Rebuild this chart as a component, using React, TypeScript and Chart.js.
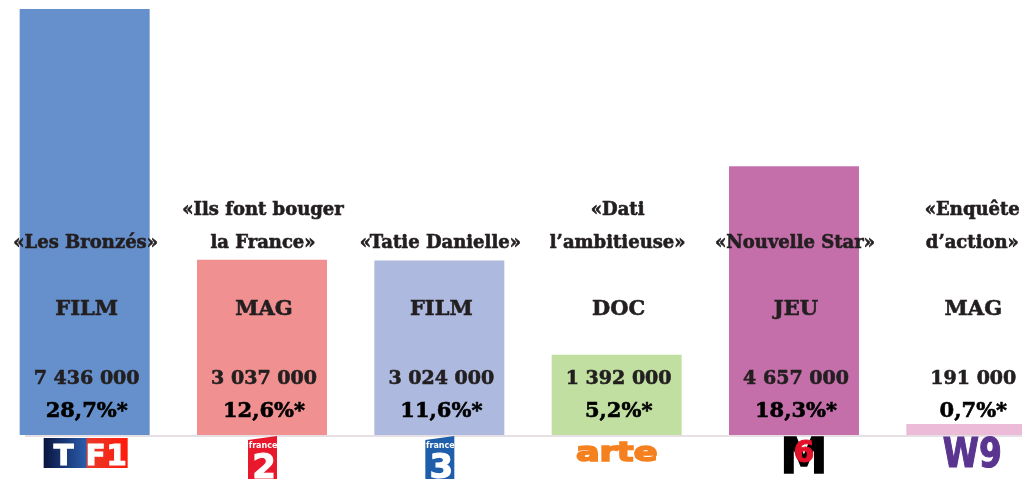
import React, { useEffect, useRef } from "react";
import { Chart, registerables } from "chart.js";

Chart.register(...registerables);

const channels = ["TF1", "France 2", "France 3", "Arte", "M6", "W9"];
const audiences = [7436000, 3037000, 3024000, 1392000, 4657000, 191000];
const shares = ["28,7%*", "12,6%*", "11,6%*", "5,2%*", "18,3%*", "0,7%*"];
const programs = [
  ["«Les Bronzés»"],
  ["«Ils font bouger", "la France»"],
  ["«Tatie Danielle»"],
  ["«Dati", "l’ambitieuse»"],
  ["«Nouvelle Star»"],
  ["«Enquête", "d’action»"],
];
const genres = ["FILM", "MAG", "FILM", "DOC", "JEU", "MAG"];
const barColors = ["#6690cb", "#f09090", "#adb9de", "#c0dfa0", "#c46faa", "#ebbbd7"];

const fmt = (n: number) => String(n).replace(/\B(?=(\d{3})+(?!\d))/g, " ");

const SERIF = '"DejaVu Serif", serif';
const SANS = '"DejaVu Sans", sans-serif';

function boldText(ctx: CanvasRenderingContext2D, text: string, x: number, y: number, w = 0.6) {
  ctx.fillText(text, x, y);
  ctx.lineWidth = w;
  ctx.strokeStyle = ctx.fillStyle as string;
  ctx.strokeText(text, x, y);
}

function drawLogo(ctx: CanvasRenderingContext2D, name: string, cx: number) {
  ctx.save();
  ctx.textAlign = "center";
  ctx.textBaseline = "alphabetic";
  if (name === "TF1") {
    const x0 = cx - 41, x1 = cx + 43;
    const g = ctx.createLinearGradient(x0, 0, x1, 0);
    g.addColorStop(0, "#0a1440");
    g.addColorStop(0.5, "#2a5cab");
    g.addColorStop(0.52, "#e83a2a");
    g.addColorStop(1, "#ff1a0a");
    ctx.fillStyle = g;
    ctx.fillRect(x0, 438, 84, 30);
    ctx.fillStyle = "#ffffff";
    ctx.font = `bold 29px ${SANS}`;
    boldText(ctx, "T", cx - 21, 465, 1.2);
    boldText(ctx, "F", cx + 11, 465, 1.2);
    boldText(ctx, "1", cx + 32, 465, 1.2);
  } else if (name === "France 2" || name === "France 3") {
    const col = name === "France 2" ? "#e8192c" : "#1f5eaa";
    ctx.fillStyle = col;
    ctx.beginPath();
    ctx.moveTo(cx - 14, 440);
    ctx.lineTo(cx + 15, 436);
    ctx.lineTo(cx + 15, 479);
    ctx.lineTo(cx - 14, 479);
    ctx.closePath();
    ctx.fill();
    ctx.fillStyle = "#ffffff";
    ctx.font = `bold 8px ${SANS}`;
    ctx.fillText("france", cx + 1, 448);
    ctx.font = `bold 34px ${SANS}`;
    boldText(ctx, name === "France 2" ? "2" : "3", cx + 2, 478, 1);
  } else if (name === "Arte") {
    ctx.fillStyle = "#f5801f";
    ctx.font = `bold 26px ${SANS}`;
    ctx.translate(cx, 461);
    ctx.scale(1.35, 1);
    boldText(ctx, "arte", 0, 0, 1.6);
  } else if (name === "M6") {
    ctx.fillStyle = "#000000";
    ctx.font = `bold 50px ${SANS}`;
    ctx.translate(cx + 10, 473);
    ctx.scale(0.95, 1);
    boldText(ctx, "M", 0, 0, 1.5);
    ctx.setTransform(1, 0, 0, 1, 0, 0);
    ctx.fillStyle = "#e2122a";
    ctx.font = `bold 30px ${SANS}`;
    boldText(ctx, "6", cx + 10, 462, 1);
  } else if (name === "W9") {
    ctx.fillStyle = "#5a3590";
    ctx.font = `bold 40px ${SANS}`;
    ctx.translate(cx + 1, 467);
    ctx.scale(0.82, 1);
    boldText(ctx, "W9", 0, 0, 1.2);
  }
  ctx.restore();
}

const labelPlugin = {
  id: "tvLabels",
  beforeDatasetsDraw(chart: any) {
    const ctx = chart.ctx as CanvasRenderingContext2D;
    ctx.save();
    ctx.strokeStyle = "#e6dfe3";
    ctx.lineWidth = 2;
    ctx.beginPath();
    ctx.moveTo(29, 436);
    ctx.lineTo(chart.width, 436);
    ctx.stroke();
    ctx.restore();
  },
  afterDatasetsDraw(chart: any) {
    const ctx = chart.ctx as CanvasRenderingContext2D;
    const xs = chart.scales.x;
    ctx.save();
    ctx.textAlign = "center";
    ctx.textBaseline = "alphabetic";
    channels.forEach((ch, i) => {
      const cx = xs.getPixelForValue(i) + 1;
      ctx.fillStyle = "#231f20";
      ctx.font = `bold 18px ${SERIF}`;
      const lines = programs[i];
      if (lines.length === 2) {
        boldText(ctx, lines[0], cx, 215);
        boldText(ctx, lines[1], cx, 248);
      } else {
        boldText(ctx, lines[0], cx, 248);
      }
      ctx.font = `bold 21px ${SERIF}`;
      boldText(ctx, genres[i], cx + 1, 315);
      ctx.font = `bold 19px ${SERIF}`;
      boldText(ctx, fmt(audiences[i]), cx + 1, 384);
      ctx.fillStyle = "#000000";
      ctx.font = `bold 21px ${SERIF}`;
      boldText(ctx, shares[i], cx + 1, 417);
      drawLogo(ctx, ch, cx - 1);
    });
    ctx.restore();
  },
};

export default function App() {
  const ref = useRef<HTMLCanvasElement | null>(null);
  useEffect(() => {
    if (!ref.current) return;
    const chart = new Chart(ref.current, {
      type: "bar",
      data: {
        labels: channels,
        datasets: [
          {
            data: audiences,
            backgroundColor: barColors,
            borderWidth: 0,
            barPercentage: 0.733,
            categoryPercentage: 1,
          },
        ],
      },
      options: {
        animation: false,
        responsive: false,
        maintainAspectRatio: false,
        layout: { padding: { top: 9, bottom: 44, left: 0, right: 0 } },
        plugins: { legend: { display: false }, tooltip: { enabled: false } },
        scales: {
          x: { display: false },
          y: { display: false, min: 0, max: 7380000 },
        },
      },
      plugins: [labelPlugin],
    });
    return () => chart.destroy();
  }, []);
  return (
    <div
      style={{
        position: "fixed",
        left: 0,
        top: 0,
        width: 1022,
        height: 479,
        overflow: "hidden",
        background: "#ffffff",
      }}
    >
      <canvas
        ref={ref}
        width={1064}
        height={479}
        style={{ position: "absolute", left: -4, top: 0, width: 1064, height: 479 }}
      />
    </div>
  );
}
